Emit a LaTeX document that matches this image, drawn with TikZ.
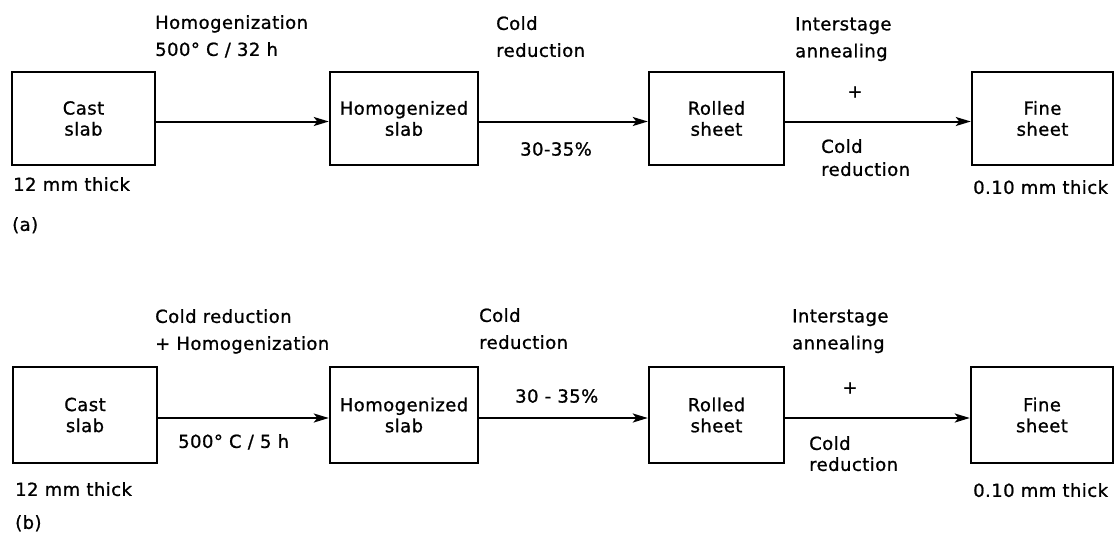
\documentclass[tikz,border=0pt]{standalone}
\usepackage{fontspec}
\setmainfont{DejaVu Sans}[FakeBold=1, LetterSpace=2.5]
\usetikzlibrary{arrows.meta, positioning}

\begin{document}
\begin{tikzpicture}[x=1pt, y=-1pt,
  stage/.style={draw, line width=2.4pt, inner sep=0pt, minimum height=93pt, align=center, font=\fontsize{18}{21}\selectfont},
  lbl/.style={inner sep=0pt, align=left, anchor=north west, font=\fontsize{18}{27}\selectfont},
  flow/.style={line width=2pt, -{Stealth[length=15pt, width=9pt, inset=3.5pt]}}]
\useasboundingbox (0,0) rectangle (1116,533);
\node[stage, minimum width=143pt] (casta) at (83.5,118.5) {Cast\\slab};
\node[stage, minimum width=148pt] (homa) at (404,118.5) {Homogenized\\slab};
\node[stage, minimum width=135pt] (rola) at (716.5,118.5) {Rolled\\sheet};
\node[stage, minimum width=141pt] (finea) at (1042.5,118.5) {Fine\\sheet};
\draw[flow] ([yshift=-3pt]casta.east) -- ([yshift=-3pt]homa.west);
\draw[flow] ([yshift=-3pt]homa.east) -- ([yshift=-3pt]rola.west);
\draw[flow] ([yshift=-3pt]rola.east) -- ([yshift=-3pt]finea.west);
\node[lbl] (hoa) at (155,15) {Homogenization\\500° C / 32 h};
\node[lbl] (cra) at (496,16) {Cold\\reduction};
\node[lbl] (pra) at (520,142) {30-35\%};
\node[lbl] (ana) at (795,17) {Interstage\\annealing};
\node[lbl, anchor=center] (pla) at (855,92) {+};
\node[lbl, font=\fontsize{18}{23}\selectfont] (cda) at (821,139) {Cold\\reduction};
\node[lbl] (tha) at (13,177) {12 mm thick};
\node[lbl] (fta) at (973,180) {0.10 mm thick};
\node[lbl] (capa) at (12,217) {(a)};
\node[stage, minimum width=144pt, minimum height=96pt] (castb) at (85,415) {Cast\\slab};
\node[stage, minimum width=148pt, minimum height=96pt] (homb) at (404,415) {Homogenized\\slab};
\node[stage, minimum width=135pt, minimum height=96pt] (rolb) at (716.5,415) {Rolled\\sheet};
\node[stage, minimum width=142pt, minimum height=96pt] (fineb) at (1042,415) {Fine\\sheet};
\draw[flow] ([yshift=-3pt]castb.east) -- ([yshift=-3pt]homb.west);
\draw[flow] ([yshift=-3pt]homb.east) -- ([yshift=-3pt]rolb.west);
\draw[flow] ([yshift=-3pt]rolb.east) -- ([yshift=-3pt]fineb.west);
\node[lbl] (hob) at (155,309) {Cold reduction\\+ Homogenization};
\node[lbl] (htb) at (178,434) {500° C / 5 h};
\node[lbl] (crb) at (479,308) {Cold\\reduction};
\node[lbl] (prb) at (515,389) {30 - 35\%};
\node[lbl] (anb) at (792,309) {Interstage\\annealing};
\node[lbl, anchor=center] (plb) at (850,388) {+};
\node[lbl, font=\fontsize{18}{21}\selectfont] (cdb) at (809,436) {Cold\\reduction};
\node[lbl] (thb) at (15,482) {12 mm thick};
\node[lbl] (ftb) at (973,483) {0.10 mm thick};
\node[lbl] (capb) at (15,515) {(b)};
\end{tikzpicture}
\end{document}
